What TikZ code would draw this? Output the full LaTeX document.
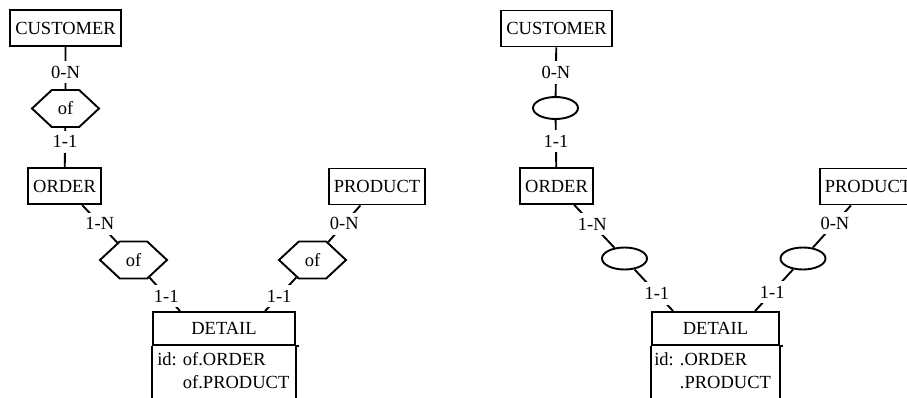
\documentclass[tikz,border=0pt]{standalone}
\usepackage{fontspec}
\setmainfont{Liberation Serif}
\usetikzlibrary{shapes.geometric, shapes.symbols, calc, positioning}

\begin{document}
\begin{tikzpicture}[x=1pt, y=-1pt,
  erfont/.style={font=\fontsize{18.5}{22}\selectfont},
  ent/.style={draw, line width=1.9pt, erfont, inner xsep=5pt, inner ysep=0pt, minimum height=36pt},
  relhex/.style={draw, line width=1.9pt, erfont, signal, signal to=east and west, signal pointer angle=86, minimum width=67pt, minimum height=37pt, inner sep=0pt},
  relell/.style={draw, line width=1.9pt, ellipse, minimum width=45pt, minimum height=22pt, inner sep=0pt},
  card/.style={erfont, fill=white, inner xsep=1pt, inner ysep=5pt},
  link/.style={line width=1.9pt},
  attr/.style={erfont, anchor=base west, inner sep=0pt}
]
\useasboundingbox (0,0) rectangle (907,397);
% Left schema: named relationships
\node[ent] (cust1) at (65.5,28) {CUSTOMER};
\node[relhex] (of1) at (65.5,108.5) {of};
\node[ent] (ord1) at (64.5,186) {ORDER};
\node[ent] (prod1) at (377,186.5) {PRODUCT};
\node[relhex] (of2) at (133.5,260) {of};
\node[relhex] (of3) at (312.5,260) {of};
\node[ent, minimum width=142pt, minimum height=33pt] (det1) at (224,328.5) {DETAIL};
\coordinate (det1a) at ($(det1.north west)+(28,0)$);
\coordinate (det1b) at ($(det1.north west)+(113,0)$);
\draw[link] (cust1) -- node[card, pos=0.6]{0-N} (of1);
\draw[link] (of1) -- node[card, pos=0.35]{1-1} (ord1);
\draw[link] (ord1) -- node[card, pos=0.5]{1-N} (of2);
\draw[link] (of2) -- node[card, pos=0.55]{1-1} (det1a);
\draw[link] (prod1) -- node[card, pos=0.5]{0-N} (of3);
\draw[link] (of3) -- node[card, pos=0.55]{1-1} (det1b);
% DETAIL body runs off the page
\draw[link] (det1.south west) -- ++(0,60);
\draw[link] (det1.south east) -- ++(0,60);
\draw[link] (det1.south east) -- ++(3,0);
\node[attr] (id1) at ($(det1.south west)+(5,20)$) {id: of.ORDER};
\node[attr] (id1b) at ($(det1.south west)+(5,43)$) {\phantom{id: }of.PRODUCT};
% Right schema: anonymous relationships
\node[ent] (cust2) at (556.5,28.5) {CUSTOMER};
\node[relell] (rel4) at (555.5,108) {};
\node[ent] (ord2) at (556.5,186) {ORDER};
\node[ent] (prod2) at (868,186.5) {PRODUCT};
\node[relell] (rel5) at (624.5,258.5) {};
\node[relell] (rel6) at (803,258.5) {};
\node[ent, minimum width=127pt, minimum height=33pt] (det2) at (715.5,328.5) {DETAIL};
\coordinate (det2a) at ($(det2.north west)+(22,0)$);
\coordinate (det2b) at ($(det2.north west)+(104,0)$);
\draw[link] (cust2) -- node[card, pos=0.52]{0-N} (rel4);
\draw[link] (rel4) -- node[card, pos=0.45]{1-1} (ord2);
\draw[link] (ord2) -- node[card, pos=0.45]{1-N} (rel5);
\draw[link] (rel5) -- node[card, pos=0.58]{1-1} (det2a);
\draw[link] (prod2) -- node[card, pos=0.42]{0-N} (rel6);
\draw[link] (rel6) -- node[card, pos=0.55]{1-1} (det2b);
\draw[link] (det2.south west) -- ++(0,60);
\draw[link] (det2.south east) -- ++(0,60);
\draw[link] (det2.south east) -- ++(3,0);
\node[attr] (id2) at ($(det2.south west)+(3,20)$) {id: .ORDER};
\node[attr] (id2b) at ($(det2.south west)+(3,43)$) {\phantom{id: }.PRODUCT};
\end{tikzpicture}
\end{document}
